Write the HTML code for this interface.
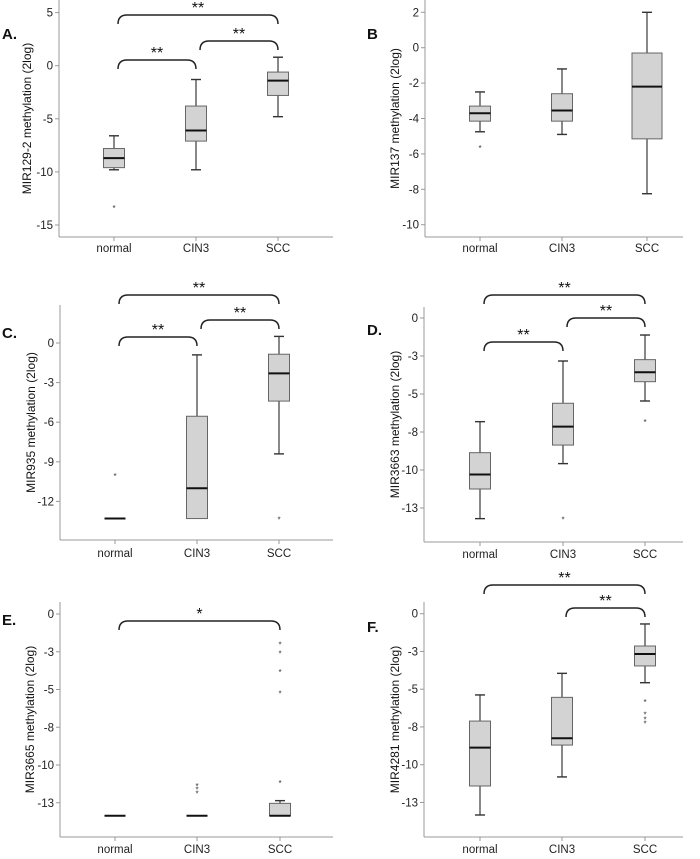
<!DOCTYPE html>
<html><head><meta charset="utf-8"><style>
html,body{margin:0;padding:0;background:#fff;}
svg{display:block;font-family:"Liberation Sans",Arial,sans-serif;}
</style></head><body>
<svg id="fig" width="700" height="859" viewBox="0 0 700 859" xmlns="http://www.w3.org/2000/svg"></svg>
<script>
// ---- data (values in axis units) ----
const categories = ["normal","CIN3","SCC"];
// Panel A MIR129-2
const aLo=[-9.8,-9.8,-4.8], aQ1=[-9.6,-7.1,-2.8], aMed=[-8.7,-6.1,-1.4], aQ3=[-7.8,-3.8,-0.6], aHi=[-6.6,-1.3,0.8];
const aOut=[[-13.3],[],[]];
const aTicks=[5,0,-5,-10,-15], aTickLabels=["5","0","-5","-10","-15"];
// Panel B MIR137
const bLo=[-4.75,-4.9,-8.25], bQ1=[-4.15,-4.15,-5.15], bMed=[-3.7,-3.55,-2.2], bQ3=[-3.3,-2.6,-0.3], bHi=[-2.5,-1.2,2.0];
const bOut=[[-5.6],[],[]];
const bTicks=[2,0,-2,-4,-6,-8,-10], bTickLabels=["2","0","-2","-4","-6","-8","-10"];
// Panel C MIR935
const cLo=[-13.3,-13.3,-8.4], cQ1=[-13.3,-13.3,-4.4], cMed=[-13.3,-11.0,-2.3], cQ3=[-13.3,-5.55,-0.85], cHi=[-13.3,-0.9,0.5];
const cOut=[[-10],[],[-13.3]];
const cTicks=[0,-3,-6,-9,-12], cTickLabels=["0","-3","-6","-9","-12"];
// Panel D MIR3663
const dLo=[-13.2,-9.58,-5.46], dQ1=[-11.25,-8.36,-4.19], dMed=[-10.3,-7.15,-3.57], dQ3=[-8.86,-5.61,-2.74], dHi=[-6.82,-2.83,-1.12];
const dOut=[[],[-13.2],[-6.76]];
const dTicks=[0,-2.5,-5,-7.5,-10,-12.5], dTickLabels=["0","-3","-5","-8","-10","-13"];
// Panel E MIR3665
const eLo=[-13.36,-13.36,-13.36], eQ1=[-13.36,-13.36,-13.36], eMed=[-13.36,-13.36,-13.36], eQ3=[-13.36,-13.36,-12.54], eHi=[-13.36,-13.36,-12.36];
const eOut=[[],[-11.32,-11.54,-11.81],[-1.94,-2.54,-3.77,-5.21,-11.13]];
const eTicks=[0,-2.5,-5,-7.5,-10,-12.5], eTickLabels=["0","-3","-5","-8","-10","-13"];
// Panel F MIR4281
const fLo=[-13.33,-10.81,-4.57], fQ1=[-11.41,-8.7,-3.46], fMed=[-8.87,-8.25,-2.67], fQ3=[-7.11,-5.54,-2.14], fHi=[-5.38,-3.95,-0.68];
const fOut=[[],[],[-5.78,-6.6,-6.93,-7.22]];
const fTicks=[0,-2.5,-5,-7.5,-10,-12.5], fTickLabels=["0","-3","-5","-8","-10","-13"];

// ---- layout ----
const panels=[
 {id:"a",letter:"A.",title:"MIR129-2 methylation (2log)",lo:aLo,q1:aQ1,med:aMed,q3:aQ3,hi:aHi,out:aOut,ticks:aTicks,tl:aTickLabels,
  ox:0,oy:0,axX:59,axTop:0,axBot:237,axR:333,zero:65.7,ppu:10.62,cx:[114,196,278],titleX:27,letterY:39,lblY:252,
  br:[{a:0,b:1,y:60,t:"**"},{a:1,b:2,y:41,t:"**"},{a:0,b:2,y:15,t:"**"}]},
 {id:"b",letter:"B",title:"MIR137 methylation (2log)",lo:bLo,q1:bQ1,med:bMed,q3:bQ3,hi:bHi,out:bOut,ticks:bTicks,tl:bTickLabels,
  ox:350,oy:0,axX:75,axTop:0,axBot:237,axR:333,zero:47.7,ppu:17.7,cx:[130,212,297],titleX:45,letterY:39,lblY:252,br:[]},
 {id:"c",letter:"C.",title:"MIR935 methylation (2log)",lo:cLo,q1:cQ1,med:cMed,q3:cQ3,hi:cHi,out:cOut,ticks:cTicks,tl:cTickLabels,
  ox:0,oy:280,axX:60,axTop:25,axBot:260,axR:333,zero:63,ppu:13.2,cx:[115,197,279],titleX:31,letterY:58,lblY:277,
  br:[{a:0,b:1,y:57,t:"**"},{a:1,b:2,y:40,t:"**"},{a:0,b:2,y:15,t:"**"}]},
 {id:"d",letter:"D.",title:"MIR3663 methylation (2log)",lo:dLo,q1:dQ1,med:dMed,q3:dQ3,hi:dHi,out:dOut,ticks:dTicks,tl:dTickLabels,
  ox:350,oy:280,axX:74,axTop:27,axBot:262,axR:333,zero:38,ppu:15.2,cx:[130,213,295],titleX:45,letterY:55,lblY:278,
  br:[{a:0,b:1,y:62,t:"**"},{a:1,b:2,y:38,t:"**"},{a:0,b:2,y:15,t:"**"}]},
 {id:"e",letter:"E.",title:"MIR3665 methylation (2log)",lo:eLo,q1:eQ1,med:eMed,q3:eQ3,hi:eHi,out:eOut,ticks:eTicks,tl:eTickLabels,
  ox:0,oy:570,axX:60,axTop:32,axBot:267,axR:333,zero:44,ppu:15.1,cx:[115,197,280],titleX:30,letterY:55,lblY:283,
  br:[{a:0,b:2,y:51,t:"*"}]},
 {id:"f",letter:"F.",title:"MIR4281 methylation (2log)",lo:fLo,q1:fQ1,med:fMed,q3:fQ3,hi:fHi,out:fOut,ticks:fTicks,tl:fTickLabels,
  ox:350,oy:570,axX:74,axTop:32,axBot:267,axR:333,zero:43.7,ppu:15.1,cx:[130,212,295],titleX:45,letterY:62,lblY:283,
  br:[{a:1,b:2,y:38,t:"**"},{a:0,b:2,y:15,t:"**"}]}
];
const NS="http://www.w3.org/2000/svg";
const svg=document.getElementById("fig");
function mk(tag,attrs,parent,txt){const e=document.createElementNS(NS,tag);for(const k in attrs)e.setAttribute(k,attrs[k]);if(txt!==undefined)e.textContent=txt;parent.appendChild(e);return e;}

panels.forEach(p=>{
  const g=mk("g",{transform:`translate(${p.ox},${p.oy})`},svg);
  
  
  const y=v=>p.zero - v*p.ppu;
  const lt=mk("text",{x:p.ox===0?2:17,y:p.letterY,"font-size":"15","font-weight":"bold",fill:"#111"},g,p.letter);
  
  
  const ya=mk("line",{x1:p.axX,y1:p.axTop,x2:p.axX,y2:p.axBot,stroke:"#999","stroke-width":1},g);
  
  
  const xa=mk("line",{x1:p.axX,y1:p.axBot,x2:p.axR,y2:p.axBot,stroke:"#999","stroke-width":1},g);
  
  
  p.ticks.forEach((t,i)=>{
    const ty=y(t);
    mk("line",{x1:p.axX-4,y1:ty,x2:p.axX,y2:ty,stroke:"#999"},g);
    const tt=mk("text",{x:p.axX-6,y:ty+4,"font-size":"11.5","text-anchor":"end",fill:"#222"},g,p.tl[i]);
    
    
  });
  const cy=(p.axTop+p.axBot)/2;
  const yt=mk("text",{x:p.titleX,y:cy,"font-size":"12","text-anchor":"middle",fill:"#111",transform:`rotate(-90 ${p.titleX} ${cy})`,dy:"4"},g,p.title);
  
  
  categories.forEach((c,i)=>{
    const x=p.cx[i];
    mk("line",{x1:x,y1:p.axBot,x2:x,y2:p.axBot+4,stroke:"#999"},g);
    const cl=mk("text",{x:x,y:p.lblY,"font-size":"11.5","text-anchor":"middle",fill:"#222"},g,c);
    
    
    const hw=(p.id==="b"&&i===2)?15:10.5;
    const bg=mk("g",{},g);
    
    
    const lo=y(p.lo[i]),hi=y(p.hi[i]),q1=y(p.q1[i]),q3=y(p.q3[i]),md=y(p.med[i]);
    if(Math.abs(q1-q3)>0.5){
      mk("line",{x1:x,y1:hi,x2:x,y2:q3,stroke:"#555","stroke-width":1.4},bg);
      mk("line",{x1:x,y1:q1,x2:x,y2:lo,stroke:"#555","stroke-width":1.4},bg);
      if(Math.abs(hi-q3)>0.5) mk("line",{x1:x-5,y1:hi,x2:x+5,y2:hi,stroke:"#333","stroke-width":1.4},bg);
      if(Math.abs(lo-q1)>0.5) mk("line",{x1:x-5,y1:lo,x2:x+5,y2:lo,stroke:"#333","stroke-width":1.4},bg);
      mk("rect",{x:x-hw,y:q3,width:2*hw,height:q1-q3,fill:"#d3d3d3",stroke:"#666","stroke-width":1},bg);
    }
    mk("line",{x1:x-hw,y1:md,x2:x+hw,y2:md,stroke:"#111","stroke-width":2},bg);
    p.out[i].forEach(v=>{
      const o=mk("text",{x:x,y:y(v)+4,"font-size":"8","text-anchor":"middle",fill:"#333"},bg,"*");
      
      
    });
  });
  p.br.forEach(b=>{
    const x1=p.cx[b.a]+4,x2=p.cx[b.b];
    const d=`M${x1},${b.y+9} Q${x1},${b.y} ${x1+9},${b.y} L${x2-9},${b.y} Q${x2},${b.y} ${x2},${b.y+9}`;
    const br=mk("path",{d:d,fill:"none",stroke:"#222","stroke-width":1.5},g);
    
    
    const st=mk("text",{x:(x1+x2)/2,y:b.y-2,"font-size":"16","text-anchor":"middle",fill:"#111"},g,b.t);
    
    
  });
});
</script>
</body></html>
